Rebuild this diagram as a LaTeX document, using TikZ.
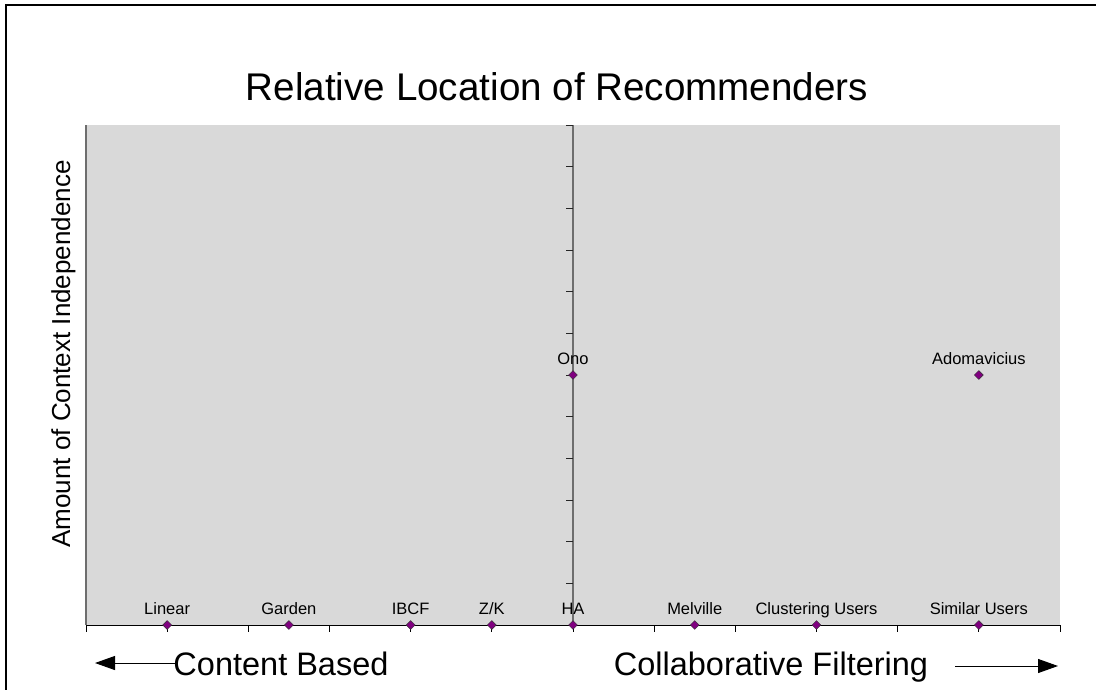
\documentclass[tikz,border=0pt]{standalone}
\usepackage{fontspec}
\setmainfont{Liberation Sans}
\usetikzlibrary{arrows.meta,shapes.geometric}
\definecolor{plotgray}{RGB}{217,217,217}
\definecolor{axisgray}{RGB}{110,110,110}
\definecolor{ptpurple}{RGB}{128,0,128}
\tikzset{
  recpoint/.style={diamond, fill=ptpurple, draw=black!80, line width=0.4pt, inner sep=0pt, minimum size=9pt},
  reclabel/.style={anchor=base, inner sep=0pt, font=\fontsize{16.5}{18}\selectfont},
  sidelabel/.style={anchor=base, inner sep=0pt, font=\fontsize{32.5}{36}\selectfont},
  bigarrow/.style={-{Triangle[length=20pt,width=14pt]}, line width=1pt}
}
\begin{document}
\begin{tikzpicture}[x=1pt, y=-1pt]
  \useasboundingbox (0,0) rectangle (1096,689);
  \clip (0,0) rectangle (1096,689);
  % frame
  \draw[line width=2pt] (6,5) rectangle (1110,710);
  % plot area
  \fill[plotgray] (86,125) rectangle (1060,625);
  \draw[axisgray, line width=1.5pt] (86,125) -- (86,625);
  \draw[axisgray, line width=1.5pt] (573,125) -- (573,625);
  \foreach \k in {0,...,12}
    \draw[black!85, line width=0.8pt] (566,{125+\k*41.667}) -- (573,{125+\k*41.667});
  \draw[black, line width=0.8pt] (86,625) -- (1060,625);
  \foreach \k in {0,...,12}
    \draw[black, line width=0.8pt] ({86+\k*81.17},625) -- ({86+\k*81.17},632);
  % title and axis labels
  \node[anchor=base, inner sep=0pt, font=\fontsize{38.6}{42}\selectfont] (title) at (557,100) {Relative Location of Recommenders};
  \node[anchor=base, inner sep=0pt, rotate=90, font=\fontsize{26}{28}\selectfont] (ylabel) at (70,354) {Amount of Context Independence};
  \node[sidelabel] (cbased) at (281,675) {Content Based};
  \node[sidelabel] (cfilter) at (771,675) {Collaborative Filtering};
  \coordinate (lefttip) at (95,663);
  \coordinate (rightstart) at (955,666);
  \coordinate (righttip) at (1058,666);
  \draw[bigarrow] (175,663) coordinate (leftstart) -- (lefttip);
  \draw[bigarrow] (rightstart) -- (righttip);
  % recommenders: position on x (-6..6) and y (0..12)
  \foreach \px/\py/\name/\txt in {-5/0/linear/Linear, -3.5/0/garden/Garden, -2/0/ibcf/IBCF,
      -1/0/zk/{Z/K}, 0/0/ha/HA, 1.5/0/melville/Melville, 3/0/clustering/Clustering Users,
      5/0/similar/Similar Users, 0/6/ono/Ono, 5/6/adomavicius/Adomavicius} {
    \node[recpoint] (p-\name) at ({573+\px*81.17},{625-\py*41.667}) {};
    \node[reclabel] (l-\name) at ({573+\px*81.17},{614-\py*41.667}) {\txt};
  }
\end{tikzpicture}
\end{document}
